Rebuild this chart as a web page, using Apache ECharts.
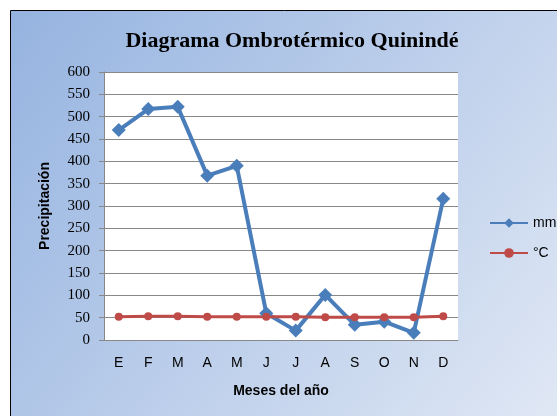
<!DOCTYPE html>
<html>
<head>
	<meta charset="utf-8" />
	<script src="https://cdnjs.cloudflare.com/ajax/libs/echarts/6.0.0/echarts.min.js"></script>
</head>
<body style="margin:0;background:#fff;">
	<div id="main" style="width: 557px;height:416px;"></div>

	<script type="text/javascript">
		// datos
		var meses = ['E', 'F', 'M', 'A', 'M', 'J', 'J', 'A', 'S', 'O', 'N', 'D'];
		var precipitacion = [470, 517, 522, 368, 390, 60, 21, 101, 34, 41, 16, 316];
		var temperatura = [52, 53, 53, 52, 52, 52, 52, 51, 51, 51, 51, 53];

		var myChart = echarts.init(document.getElementById('main'));

		var option = {
			animation: false,
			graphic: [{
				type: 'rect',
				z: -10,
				shape: { x: 10.5, y: 10.5, width: 560, height: 420 },
				style: {
					stroke: '#000',
					lineWidth: 1,
					fill: new echarts.graphic.LinearGradient(0, 0, 1, 1, [
						{ offset: 0, color: '#95b3e0' },
						{ offset: 1, color: '#e2e9f5' }
					])
				}
			}],
			title: {
				text: 'Diagrama Ombrotérmico Quinindé',
				left: 287,
				textAlign: 'center',
				top: 25,
				textStyle: {
					fontFamily: 'Liberation Serif',
					fontWeight: 'bold',
					fontSize: 22,
					color: '#000'
				}
			},
			legend: {
				orient: 'vertical',
				left: 484,
				top: 211,
				itemWidth: 38,
				itemHeight: 12,
				itemGap: 16,
				textStyle: { fontFamily: 'Liberation Sans', fontSize: 14, color: '#000' },
				data: ['mm', '°C']
			},
			grid: {
				left: 104,
				right: 99,
				top: 72,
				bottom: 76,
				show: true,
				backgroundColor: '#fff',
				borderWidth: 0
			},
			xAxis: {
				type: 'category',
				data: meses,
				name: 'Meses del año',
				nameLocation: 'middle',
				nameGap: 44,
				nameTextStyle: { fontFamily: 'Liberation Sans', fontWeight: 'bold', fontSize: 14, color: '#000' },
				axisLine: { lineStyle: { color: '#888', width: 1 } },
				axisTick: { show: false },
				axisLabel: { margin: 16, fontFamily: 'Liberation Sans', fontSize: 14, color: '#000' }
			},
			yAxis: {
				type: 'value',
				min: 0,
				max: 600,
				interval: 50,
				name: 'Precipitación',
				nameLocation: 'middle',
				nameGap: 52,
				nameTextStyle: { fontFamily: 'Liberation Sans', fontWeight: 'bold', fontSize: 14, color: '#000' },
				axisLine: { show: true, lineStyle: { color: '#888', width: 1 } },
				axisTick: { show: true, length: 5, lineStyle: { color: '#888' } },
				axisLabel: { margin: 14, fontFamily: 'Liberation Serif', fontSize: 15, color: '#000' },
				splitLine: { lineStyle: { color: '#888', width: 1 } }
			},
			series: [
				{
					name: 'mm',
					type: 'line',
					data: precipitacion,
					symbol: 'diamond',
					symbolSize: 14,
					itemStyle: { color: '#4a7ebb' },
					lineStyle: { color: '#4a7ebb', width: 4 }
				},
				{
					name: '°C',
					type: 'line',
					data: temperatura,
					symbol: 'circle',
					symbolSize: 8,
					itemStyle: { color: '#be4b48' },
					lineStyle: { color: '#be4b48', width: 3 }
				}
			]
		};

		myChart.setOption(option);
	</script>
</body>
</html>
